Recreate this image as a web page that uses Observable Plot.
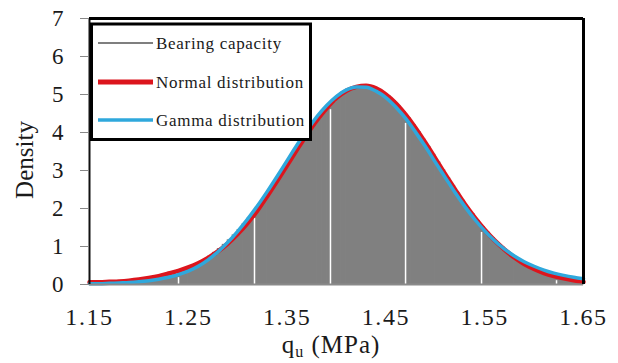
<!DOCTYPE html>
<html><head><meta charset="utf-8">
<script src="https://cdn.jsdelivr.net/npm/d3@7"></script>
<script src="https://cdn.jsdelivr.net/npm/@observablehq/plot@0.6"></script>
<style>
body{margin:0;background:#fff;}
#chart{width:618px;height:363px;}
#chart svg text{font-family:"Liberation Serif","Times New Roman",serif;}
#chart svg g[aria-label="x-axis tick label"] text{letter-spacing:1.6px;}
#chart svg text.legend-text{letter-spacing:0.7px;}
#chart svg text.x-title{letter-spacing:1px;}
</style>
</head><body><div id="chart"></div>
<script>
const xTicks = [1.15, 1.25, 1.35, 1.45, 1.55, 1.65];
const yTicks = [0, 1, 2, 3, 4, 5, 6, 7];
const binStart = 1.15, binWidth = 0.005;
const histDensity = [
 0.00,0.00,0.01,0.01,0.01,0.02,0.02,0.03,0.04,0.05,
 0.07,0.08,0.10,0.12,0.15,0.18,0.21,0.25,0.30,0.36,
 0.42,0.49,0.56,0.64,0.73,0.83,0.93,1.04,1.16,1.29,
 1.43,1.58,1.73,1.89,2.06,2.24,2.42,2.61,2.81,3.01,
 3.21,3.41,3.61,3.80,3.99,4.17,4.34,4.50,4.65,4.79,
 4.91,5.02,5.10,5.16,5.20,5.22,5.21,5.18,5.12,5.04,
 4.94,4.82,4.68,4.53,4.37,4.19,4.01,3.81,3.62,3.41,
 3.21,3.00,2.79,2.59,2.39,2.20,2.01,1.84,1.67,1.51,
 1.36,1.22,1.09,0.97,0.86,0.76,0.66,0.58,0.50,0.43,
 0.37,0.32,0.27,0.23,0.19,0.16,0.13,0.11,0.09,0.07];
const curveX = [1.15,1.16,1.17,1.18,1.19,1.20,1.21,1.22,1.23,1.24,1.25,1.26,1.27,1.28,1.29,1.30,1.31,1.32,1.33,1.34,1.35,1.36,1.37,1.38,1.39,1.40,1.41,1.42,1.43,1.44,1.45,1.46,1.47,1.48,1.49,1.50,1.51,1.52,1.53,1.54,1.55,1.56,1.57,1.58,1.59,1.60,1.61,1.62,1.63,1.64,1.65];
const normalDensity = [0.06,0.06,0.07,0.08,0.10,0.13,0.17,0.22,0.29,0.36,0.45,0.56,0.70,0.87,1.08,1.33,1.62,1.95,2.33,2.73,3.14,3.55,3.95,4.32,4.64,4.91,5.10,5.20,5.23,5.16,5.00,4.77,4.47,4.12,3.73,3.32,2.90,2.50,2.11,1.76,1.44,1.16,0.92,0.71,0.54,0.41,0.30,0.22,0.16,0.11,0.07];
const gammaDensity = [0.02,0.02,0.03,0.04,0.05,0.07,0.10,0.14,0.19,0.26,0.35,0.48,0.65,0.86,1.11,1.40,1.72,2.07,2.45,2.85,3.26,3.67,4.05,4.41,4.71,4.95,5.12,5.20,5.19,5.09,4.92,4.67,4.37,4.01,3.63,3.22,2.82,2.42,2.05,1.71,1.41,1.15,0.93,0.75,0.60,0.48,0.38,0.30,0.24,0.19,0.15];
const gridX = [1.2401, 1.3170, 1.3939, 1.4699, 1.5468, 1.6227];
const gridTop = [0.18, 1.74, 4.60, 4.24, 1.37, 0.10];
const legendLabels = ["Bearing capacity", "Normal distribution", "Gamma distribution"];
const xLabelMain = "q", xLabelSub = "u", xLabelRest = " (MPa)";
const yLabel = "Density";
const histColor = "#808080", normalColor = "#dc151d", gammaColor = "#2fa8dc";

const bins = histDensity.map((d, i) => ({x1: binStart + i * binWidth, x2: binStart + (i + 1) * binWidth, y: d}));
const normal = curveX.map((x, i) => ({x, y: normalDensity[i]}));
const gamma = curveX.map((x, i) => ({x, y: gammaDensity[i]}));
const grid = gridX.map((x, i) => ({x, top: gridTop[i]}));

const font = "Liberation Serif, Times New Roman, serif";
const plot = Plot.plot({
  width: 618, height: 363,
  marginLeft: 89, marginRight: 35, marginTop: 18, marginBottom: 79,
  style: {fontFamily: font, fontSize: "24px", color: "#1a1a1a", background: "#fff", overflow: "visible"},
  x: {domain: [1.15, 1.65]},
  y: {domain: [0, 7]},
  marks: [
    Plot.rectY(bins, {x1: "x1", x2: "x2", y: "y", fill: histColor, stroke: histColor, strokeWidth: 1.2}),
    Plot.ruleX(grid, {x: "x", y1: 0, y2: "top", stroke: "white", strokeWidth: 1.5}),
    Plot.line(normal, {x: "x", y: "y", stroke: normalColor, strokeWidth: 4.5, curve: "monotone-x"}),
    Plot.line(gamma, {x: "x", y: "y", stroke: gammaColor, strokeWidth: 3.5, curve: "monotone-x"}),
    Plot.ruleY([0], {stroke: "#8a8a8a", strokeWidth: 2}),
    Plot.ruleX([1.15], {stroke: "#111", strokeWidth: 2}),
    Plot.ruleY([7], {stroke: "#000", strokeWidth: 3}),
    Plot.ruleX([1.65], {stroke: "#000", strokeWidth: 3}),
    Plot.axisY({ticks: yTicks, tickSize: 9, tickPadding: 17, stroke: "#888", fontSize: 23, tickFormat: d3.format("d"), label: null}),
    Plot.axisX({ticks: xTicks, tickSize: 0, tickPadding: 23, fontSize: 24, tickFormat: d3.format(".2f"), label: null})
  ]
});
document.getElementById("chart").appendChild(plot);

const svg = d3.select(plot);
// y label
svg.append("text").attr("transform", "translate(24,160) rotate(-90)")
  .attr("text-anchor", "middle").attr("dy", "0.35em")
  .attr("font-size", 25).attr("fill", "#1a1a1a").text(yLabel);
// x label with subscript
const xl = svg.append("text").attr("class", "x-title").attr("x", 331).attr("y", 353).attr("text-anchor", "middle")
  .attr("font-size", 25).attr("fill", "#1a1a1a");
xl.append("tspan").text(xLabelMain);
xl.append("tspan").attr("font-size", 16).attr("dy", 4).text(xLabelSub);
xl.append("tspan").attr("dy", -4).text(xLabelRest);
// legend
const lg = svg.append("g");
lg.append("rect").attr("x", 91.5).attr("y", 24).attr("width", 219).attr("height", 115.5)
  .attr("fill", "white").attr("stroke", "black").attr("stroke-width", 3);
const legendColors = ["#7f7f7f", normalColor, gammaColor];
const legendWidths = [2, 5, 3.5];
const legendY = [43, 82, 120];
legendLabels.forEach((t, i) => {
  lg.append("line").attr("x1", 98).attr("x2", 153).attr("y1", legendY[i]).attr("y2", legendY[i])
    .attr("stroke", legendColors[i]).attr("stroke-width", legendWidths[i]);
  lg.append("text").attr("class", "legend-text").attr("x", 156).attr("y", legendY[i]).attr("dy", "0.35em").attr("text-anchor", "start")
    .attr("font-size", 17).attr("fill", "#1a1a1a").text(t);
});
</script>
</body></html>
